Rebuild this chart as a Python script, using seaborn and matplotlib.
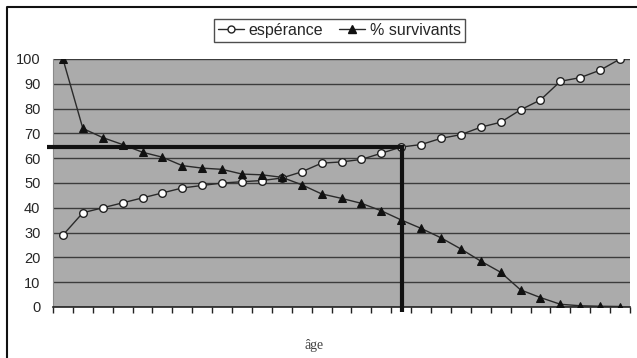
import matplotlib
matplotlib.use("Agg")
import matplotlib.pyplot as plt
import seaborn as sns
import pandas as pd
import numpy as np
from matplotlib.lines import Line2D

# ---- data ----
age_index = list(range(29))
esperance = [29, 38, 40, 42, 44, 46, 48, 49, 50, 50.5, 51, 52, 54.5, 58, 58.5,
             59.5, 62, 64.5, 65.5, 68, 69.5, 72.5, 74.5, 79.5, 83.5, 91, 92.5, 95.5, 100]
survivants = [100, 72, 68.3, 65.5, 62.4, 60.4, 57, 56, 55.5, 53.6, 53.3, 52.3, 49.3,
              45.6, 43.8, 41.8, 38.8, 35.1, 31.7, 27.9, 23.4, 18.5, 14, 6.9, 3.8,
              1.1, 0.5, 0.3, 0.2]
y_ticks = [0, 10, 20, 30, 40, 50, 60, 70, 80, 90, 100]
seuil_valeur = 64.6
seuil_index = 17.05

df = pd.DataFrame({"age": age_index, "espérance": esperance, "% survivants": survivants})

sns.set_style("white")
plt.rcParams["font.family"] = ["Liberation Sans", "DejaVu Sans"]

fig = plt.figure(figsize=(6.37, 3.58), dpi=100)
ax = fig.add_axes([53/637, 1-307/358, (630-53)/637, (307-59)/358])
ax.set_facecolor("#ababab")

sns.lineplot(data=df, x="age", y="espérance", ax=ax, color="#2a2a2a", lw=1.0,
             marker="o", markersize=5.5, markerfacecolor="white",
             markeredgecolor="#222222", markeredgewidth=1.0, zorder=4)
sns.lineplot(data=df, x="age", y="% survivants", ax=ax, color="#2a2a2a", lw=1.0,
             marker="^", markersize=5.5, markerfacecolor="#111111",
             markeredgecolor="#111111", zorder=4)

ax.set_xlim(-0.5, 28.5)
ax.set_ylim(0, 100)
ax.set_yticks(y_ticks)
ax.yaxis.grid(True, color="#3c3c3c", lw=1.0)
ax.set_axisbelow(True)
ax.tick_params(axis="y", left=False, length=0, pad=9, labelsize=10.5)
ax.set_xticks([i - 0.5 for i in range(30)])
ax.set_xticklabels([])
ax.tick_params(axis="x", bottom=True, direction="out", length=4, width=1, color="#222222")
ax.set_ylabel("")
ax.set_xlabel("")
for s in ["top", "right"]:
    ax.spines[s].set_visible(False)
ax.spines["bottom"].set_color("#222222")
ax.spines["bottom"].set_linewidth(1.2)
ax.spines["left"].set_color("#8a8a8a")

# thick threshold lines
ax.plot([-0.8, seuil_index], [seuil_valeur, seuil_valeur], color="#111111", lw=3.0,
        clip_on=False, zorder=5, solid_capstyle="butt")
ax.plot([seuil_index, seuil_index], [seuil_valeur + 0.6, -2.0], color="#111111", lw=3.0,
        clip_on=False, zorder=5, solid_capstyle="butt")

fig.text(314/637, 1-346/358, "âge", family="Liberation Serif", fontsize=10,
         color="#444444", ha="center", va="center")

# legend
handles = [Line2D([], [], color="#2a2a2a", lw=1.0, marker="o", markersize=5,
                  markerfacecolor="white", markeredgecolor="#222222"),
           Line2D([], [], color="#2a2a2a", lw=1.0, marker="^", markersize=6,
                  markerfacecolor="#111111", markeredgecolor="#111111")]
leg = fig.legend(handles, ["espérance", "% survivants"], loc="upper center",
                 bbox_to_anchor=(339.5/637, 1-11/358), ncol=2, frameon=True,
                 fancybox=False, edgecolor="#222222", fontsize=11.5,
                 handlelength=1.6, handletextpad=0.3, columnspacing=1.0,
                 borderpad=0.25)
leg.get_frame().set_linewidth(1.0)

# figure border (chart area)
fig.add_artist(Line2D([7/637, 7/637, 1.0], [0.0, 1-7/358, 1-7/358],
                      transform=fig.transFigure, color="#111111", lw=1.5))

fig.savefig("out.png", dpi=100)
